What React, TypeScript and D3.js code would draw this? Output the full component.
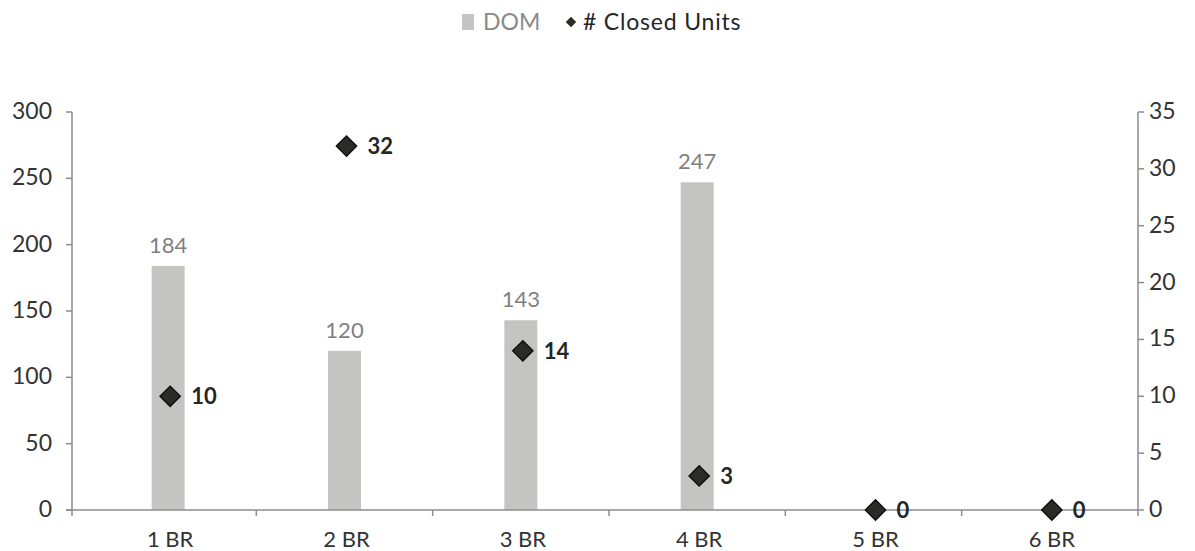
import React from "react";
import * as d3 from "d3";

const categories = ["1 BR", "2 BR", "3 BR", "4 BR", "5 BR", "6 BR"];
const domValues: (number | null)[] = [184, 120, 143, 247, null, null];
const closedUnits = [10, 32, 14, 3, 0, 0];
const leftTicks = [0, 50, 100, 150, 200, 250, 300];
const rightTicks = [0, 5, 10, 15, 20, 25, 30, 35];

const W = 1195;
const H = 551;
const FONT = "Lato, 'Open Sans', sans-serif";
const AXIS = "#8c8c8c";

export default function App() {
  const left = 72;
  const right = 1138;
  const top = 112;
  const bottom = 510;

  const x = d3.scaleBand<string>().domain(categories).range([80, right]).paddingInner(0).paddingOuter(0);
  const yL = d3.scaleLinear().domain([0, 300]).range([bottom, top]);
  const yR = d3.scaleLinear().domain([0, 35]).range([bottom, top]);
  const barW = 33;
  const diamond = d3.symbol().type(d3.symbolDiamond2).size(260)();

  const boundaries = [left, ...categories.slice(1).map((c) => x(c)!), right];

  return (
    <svg width={W} height={H} style={{ position: "absolute", left: 0, top: 0, background: "#fff" }}>
      {/* legend */}
      <g fontFamily={FONT} fontSize={23}>
        <rect x={462} y={14} width={12} height={16} fill="#c4c5c0" />
        <text x={483} y={30} fill="#8a8a8a">DOM</text>
        <path d={d3.symbol().type(d3.symbolDiamond2).size(70)()!} transform="translate(571,22)" fill="#2b2b27" />
        <text x={583} y={30} fill="#262626" letterSpacing={0.8}>{"# Closed Units"}</text>
      </g>

      {/* bars */}
      {categories.map((c, i) => {
        const v = domValues[i];
        if (v == null) return null;
        const cx = x(c)! + x.bandwidth() / 2;
        return (
          <g key={c}>
            <rect x={cx - barW / 2} y={yL(v)} width={barW} height={bottom - yL(v)} fill="#c4c5c0" />
            <text x={cx} y={yL(v) - 13} textAnchor="middle" fontFamily={FONT} fontSize={22} fill="#7f7f7f">
              {v}
            </text>
          </g>
        );
      })}

      {/* left axis */}
      <line x1={left} x2={left} y1={top} y2={bottom} stroke={AXIS} strokeWidth={1.5} />
      {leftTicks.map((t) => (
        <g key={t}>
          <line x1={left - 6} x2={left} y1={yL(t)} y2={yL(t)} stroke={AXIS} strokeWidth={1.5} />
          <text x={52} y={yL(t) + 7} textAnchor="end" fontFamily={FONT} fontSize={23} fill="#333">
            {t}
          </text>
        </g>
      ))}

      {/* right axis */}
      <line x1={right} x2={right} y1={top} y2={bottom} stroke={AXIS} strokeWidth={1.5} />
      {rightTicks.map((t) => (
        <g key={t}>
          <line x1={right} x2={right + 6} y1={yR(t)} y2={yR(t)} stroke={AXIS} strokeWidth={1.5} />
          <text x={1149} y={yR(t) + 7} textAnchor="start" fontFamily={FONT} fontSize={23} fill="#333">
            {t}
          </text>
        </g>
      ))}

      {/* category axis */}
      <line x1={66} x2={right} y1={bottom} y2={bottom} stroke={AXIS} strokeWidth={1.5} />
      {boundaries.map((b, i) => (
        <line key={i} x1={b} x2={b} y1={bottom} y2={bottom + 6} stroke={AXIS} strokeWidth={1.5} />
      ))}
      {categories.map((c) => (
        <text key={c} x={x(c)! + x.bandwidth() / 2 + 2} y={547} textAnchor="middle" fontFamily={FONT} fontSize={22} fill="#333">
          {c}
        </text>
      ))}

      {/* closed units markers */}
      {categories.map((c, i) => {
        const cx = x(c)! + x.bandwidth() / 2 + 2;
        const cy = yR(closedUnits[i]);
        return (
          <g key={c}>
            <path d={diamond!} transform={`translate(${cx},${cy})`} fill="#2b2b27" stroke="#111" strokeWidth={1.5} />
            <text x={cx + 21} y={cy + 8} fontFamily={FONT} fontSize={22} fontWeight={700} fill="#262626">
              {closedUnits[i]}
            </text>
          </g>
        );
      })}
    </svg>
  );
}
